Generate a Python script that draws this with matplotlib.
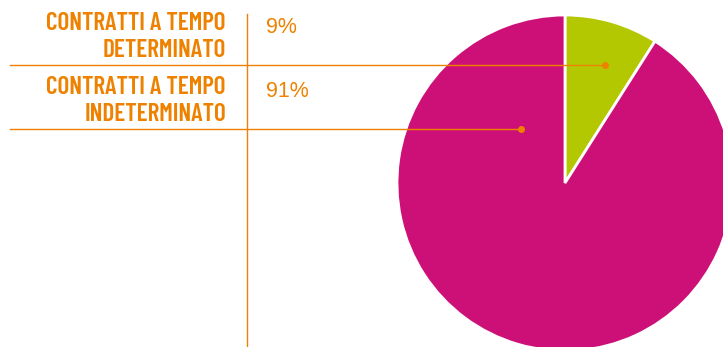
import matplotlib
matplotlib.use("Agg")
import matplotlib.pyplot as plt

# contract types and share of employees (%)
labels = ["CONTRATTI A TEMPO\nDETERMINATO", "CONTRATTI A TEMPO\nINDETERMINATO"]
shares = [9, 91]
colors = ["#B3C800", "#CD1077"]

orange = "#EE8200"
W, H = 723, 347

fig = plt.figure(figsize=(W / 100, H / 100), dpi=100)
ax = fig.add_axes([0, 0, 1, 1])

# pie partly running off the right and bottom edges
cx, cy, r = 565, 164, 168
ax.pie(shares, colors=colors, startangle=90, counterclock=False,
       center=(cx, cy), radius=r,
       wedgeprops=dict(edgecolor="white", linewidth=2))
ax.set_xlim(0, W)
ax.set_ylim(0, H)
ax.set_aspect("equal")
ax.axis("off")

# vertical separator between labels and percentages
ax.plot([247, 247], [0, 333], color=orange, lw=1)

label_y = [310, 246]
line_y = [282, 218]
dot_x = [605, 521]
for lab, val, ty, ly, dx in zip(labels, shares, label_y, line_y, dot_x):
    ax.text(226, ty, lab, ha="right", va="center", ma="right",
            color=orange, fontsize=18.2, fontweight="semibold",
            family=["Barlow Condensed", "DejaVu Sans"], linespacing=1.2)
    ax.text(266, ty + 10, f"{val}%", ha="left", va="center",
            color=orange, fontsize=15.5, family="Liberation Sans")
    ax.plot([10, dx], [ly, ly], color=orange, lw=1)
    ax.plot(dx, ly, "o", color=orange, ms=4)

fig.savefig("out.png", dpi=100)
